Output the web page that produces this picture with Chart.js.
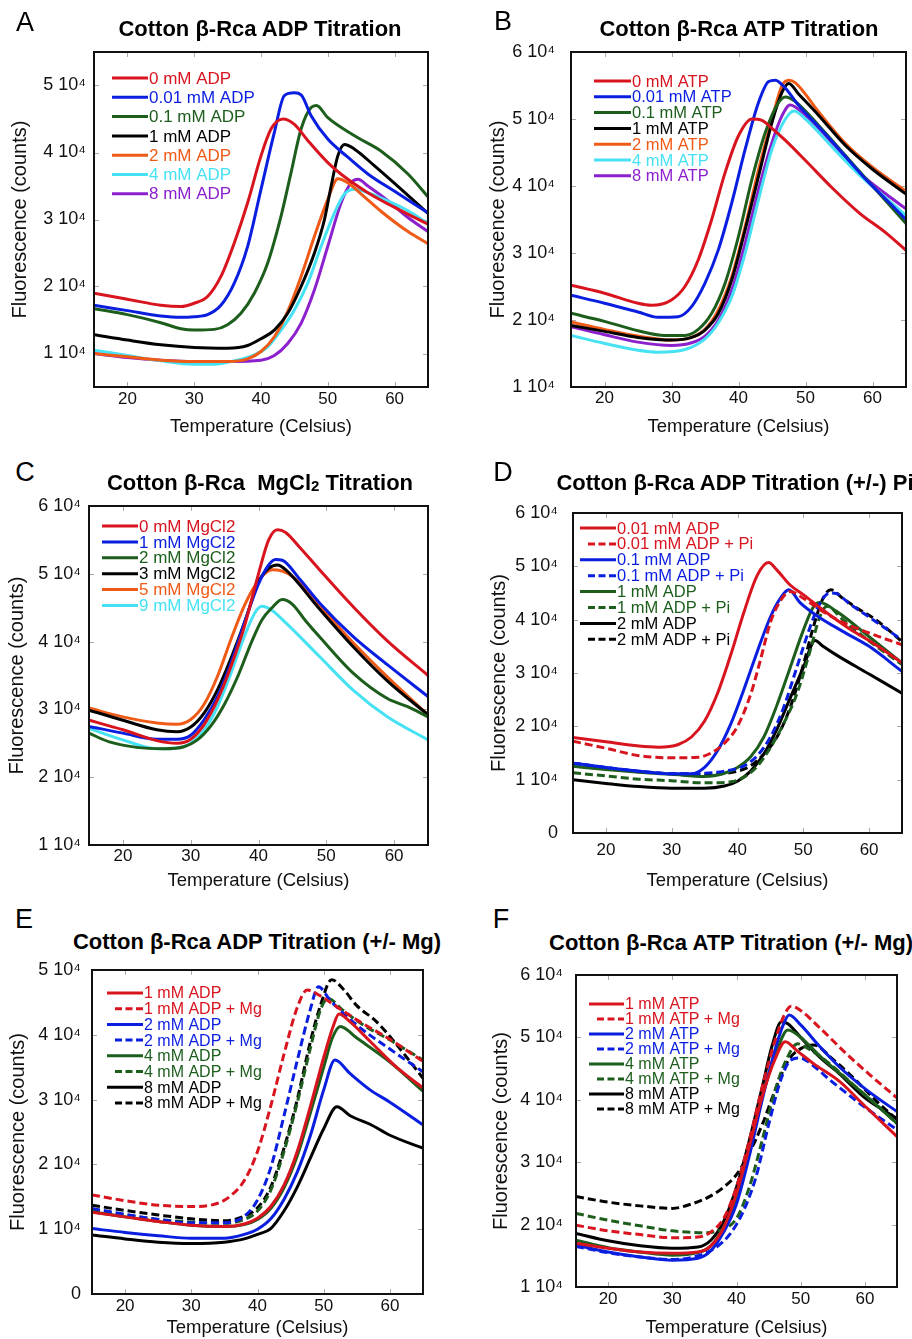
<!DOCTYPE html>
<html>
<head>
<meta charset="utf-8">
<script src="https://cdn.jsdelivr.net/npm/chart.js@4.4.1/dist/chart.umd.min.js"></script>
<style>
html, body { margin: 0; padding: 0; background: #fff; overflow: hidden; }
#fig { position: relative; width: 912px; height: 1339px; }
canvas { position: absolute; }
.lbl { position: absolute; transform: translate(-50%, -50%); white-space: nowrap;
  font-family: "Liberation Sans", Arial, Helvetica, sans-serif; color: #000; line-height: 1; }
.letter { font-size: 27px; }
.title { font-size: 22px; font-weight: bold; }
.title small { font-size: 15px; vertical-align: -1px; }
</style>
</head>
<body>
<div id="fig"></div>
<script>
var FONT = '"Liberation Sans", Arial, Helvetica, sans-serif';

// all fluorescence values are in thousands of counts, x in Celsius
var xTicks = [20, 30, 40, 50, 60];

// A: ADP titration
var aNames = ['0 mM ADP', '0.01 mM ADP', '0.1 mM ADP', '1 mM ADP', '2 mM ADP', '4 mM ADP', '8 mM ADP'];
var aYTicks = [10, 20, 30, 40, 50];
var aAdp0 = [[15,19],[20,18.1],[25,17.2],[28,17.0],[30,17.5],[32,18.5],[34,21.5],[36,26.5],[38,32.5],[40,39.5],[41.5,43.5],[43.3,45],[45,44.2],[47,41.8],[50,38.5],[53,36],[56,34],[60,31.8],[65,29.3]];
var aAdp001 = [[15,17.2],[20,16.4],[25,15.6],[28,15.4],[30,15.5],[32,15.8],[34,17.2],[36,20.5],[38,26],[40,34.5],[42,43],[43.5,48.5],[45,48.9],[46,48.6],[47.5,45.5],[50,42],[53,39.3],[56,36.8],[60,34.2],[65,31]];
var aAdp01 = [[15,16.7],[20,15.8],[25,14.6],[28,13.7],[30,13.5],[33,13.6],[35,14.3],[37,16],[39,19],[41,23.5],[43,30.5],[44.5,37],[46,43.5],[47.5,46.7],[48.3,47],[50,45.2],[54,42.5],[58,40.2],[62,36.8],[65,33.4]];
var aAdp1 = [[15,12.8],[20,12],[25,11.3],[30,10.9],[35,10.8],[38,11.2],[40,12.2],[42,13.5],[44,16],[46,20],[48,25],[49.5,30],[50.5,35],[51.5,39.5],[52.5,41.2],[54,40.5],[57,38],[61,34.5],[65,30.9]];
var aAdp2 = [[15,10],[20,9.5],[25,9.0],[30,8.8],[35,8.8],[38,9.2],[40,10.3],[42,12.5],[44,16.3],[46,21.5],[48,27.5],[50,33],[51.5,36.1],[53,35.5],[55,33.8],[58,31.2],[62,28.2],[65,26.4]];
var aAdp4 = [[15,10.5],[20,9.7],[25,8.9],[30,8.4],[33,8.4],[36,8.9],[39,9.8],[41,11],[43,13.5],[45,16.5],[47,20.5],[49,26],[51,31],[52.5,33.8],[54,34.5],[56,34],[58,33.2],[62,31.3],[65,29.4]];
var aAdp8 = [[15,10],[20,9.4],[25,9.0],[30,8.8],[35,8.8],[40,9],[42,9.7],[44,11.5],[46,14.5],[48,19.5],[50,26],[52,32.5],[53.5,35.5],[54.5,36],[56,35],[59,32.8],[62,30.3],[65,28.2]];

// B: ATP titration
var bNames = ['0 mM ATP', '0.01 mM ATP', '0.1 mM ATP', '1 mM ATP', '2 mM ATP', '4 mM ATP', '8 mM ATP'];
var bYTicks = [10, 20, 30, 40, 50, 60];
var bAtp0 = [[15,25.2],[20,24],[25,22.5],[27,22.2],[30,23],[32,25],[34,29],[36,35],[38,42],[40,47.5],[42,50],[43.5,49.8],[45,48.6],[47,46.8],[50,43.8],[54,39.7],[58,36],[62,33],[65,30.4]];
var bAtp001 = [[15,23.7],[20,22.5],[25,21.2],[28,20.4],[31,20.5],[33,22],[35,25.5],[37,30.5],[39,37.5],[41,45.5],[43,52.5],[44.5,55.6],[45.5,55.8],[47,54.6],[49,52],[52,48.8],[55,45.5],[59,41],[62,38],[65,35]];
var bAtp01 = [[15,21],[20,19.8],[25,18.4],[29,17.7],[32,17.7],[34,18.6],[36,21],[38,25.5],[40,32.5],[42,41],[44,48],[46,52.5],[47,53.3],[48.5,52.6],[52,49],[56,44.5],[60,40],[65,34.4]];
var bAtp1 = [[15,19.2],[20,18.3],[25,17.4],[30,17],[33,17.4],[35,18.5],[37,21],[39,26],[41,33.5],[43,41.5],[45,49.5],[46.5,54],[47.5,55.3],[49,53.7],[52,50.5],[56,46],[60,42.5],[65,38.8]];
var bAtp2 = [[15,19.7],[20,18.6],[25,17.6],[30,17],[33,17.4],[35,18.6],[37,21.5],[39,26.5],[41,34],[43,42.5],[45,50],[46.5,55],[47.5,55.8],[48.5,55.4],[52,51],[56,46.3],[60,42.8],[65,39.2]];
var bAtp4 = [[15,17.7],[20,16.5],[25,15.5],[28,15.2],[32,15.6],[35,17.2],[37,19.6],[39,23.5],[41,30],[43,38],[45,45.5],[47,50],[48.3,51.2],[50,50],[54,45.8],[58,41.7],[62,38.2],[65,35.6]];
var bAtp8 = [[15,19],[20,17.8],[25,16.7],[30,16.2],[33,16.6],[35,17.6],[37,20],[39,24.5],[41,31.5],[43,39.5],[45,46.5],[46.5,50.5],[47.7,52.1],[49.5,51],[54,46.4],[58,42],[62,38.8],[65,36.6]];

// C: MgCl2 titration
var cNames = ['0 mM MgCl2', '1 mM MgCl2', '2 mM MgCl2', '3 mM MgCl2', '5 mM MgCl2', '9 mM MgCl2'];
var cYTicks = [10, 20, 30, 40, 50, 60];
var cMg0 = [[15,28.4],[20,27],[25,25.4],[28,25],[30,25.6],[32,27.8],[34,31.5],[36,36.5],[38,42.5],[40,50],[41.5,55],[42.8,56.5],[44,56.1],[46,54],[49,50.6],[54,45.1],[59,40.1],[65,35]];
var cMg1 = [[15,27.5],[20,26.5],[25,25.6],[28,25.6],[30,26.2],[32,28.5],[34,32],[36,37],[38,43],[40,48.5],[41.5,51.3],[42.5,52.1],[43.5,52],[46,49.3],[49,45.7],[54,40.7],[59,36.6],[65,31.9]];
var cMg2 = [[15,26.5],[18,25.2],[22,24.4],[26,24.2],[29,24.5],[31,25.5],[33,27.6],[35,30.8],[37,35],[39,40],[40.5,43.2],[42,45],[43.5,46.2],[45,45.5],[47,43],[49,40.7],[54,35.3],[59,31.6],[62,30.4],[65,28.9]];
var cMg3 = [[15,29.9],[20,28.4],[25,27],[28,26.7],[30,27.4],[32,29.5],[34,33],[36,37.7],[38,43],[40,48.8],[41.5,50.8],[42.8,51.3],[44,50.6],[49,44.8],[54,39.2],[59,34.2],[65,29.2]];
var cMg5 = [[15,30.2],[20,28.9],[25,28],[28,27.8],[30,28.5],[32,30.8],[34,35],[36,40.5],[38,45.5],[40,49],[42,50.6],[43.5,50.4],[45,49.6],[49,45.3],[54,39.8],[59,34.8],[65,29.2]];
var cMg9 = [[15,27.2],[20,25.5],[25,24.2],[28,24.3],[30,25],[32,27],[34,30.5],[36,35.5],[38,41],[39.5,44.3],[40.5,45.2],[42,44.6],[44,42.8],[49,37.8],[54,32.8],[59,28.9],[65,25.5]];

// D: ADP titration +/- Pi
var dNames = ['0.01 mM ADP', '0.01 mM ADP + Pi', '0.1 mM ADP', '0.1 mM ADP + Pi', '1 mM ADP', '1 mM ADP + Pi', '2 mM ADP', '2 mM ADP + Pi'];
var dYTicks = [0, 10, 20, 30, 40, 50, 60];
var dAdp001 = [[15,17.9],[20,17.1],[25,16.3],[28,16.1],[31,16.6],[33,18],[35,21],[37,26.3],[39,33.5],[41,41.5],[43,48.3],[44.7,50.7],[46,49.3],[48,46.5],[50,44.7],[53,41.8],[57,38.3],[61,35.3],[65,31.9]];
var dAdp001Pi = [[15,17.2],[20,15.9],[25,14.5],[30,14.1],[34,14.2],[36,15],[38,16.8],[40,20],[42,26],[43.5,32.5],[45,39.5],[46.5,43.5],[48,45.3],[50,44],[53,41.5],[56,39.5],[60,37.5],[65,35.3]];
var dAdp01 = [[15,13.1],[20,12.3],[25,11.6],[30,11.1],[33,11.1],[35,12.3],[37,15.5],[39,20.5],[41,27],[43,34],[45,40.5],[46.5,44],[47.8,45.6],[49.5,43.2],[52,40.8],[56,37.8],[60,35],[65,30.3]];
var dAdp01Pi = [[15,13.1],[20,12.3],[25,11.6],[30,11.1],[35,11.2],[38,11.6],[41,12.6],[43,14.5],[45,18],[47,23.5],[49,31],[51,38.5],[52.5,43],[54,45],[55,44.9],[57,43],[60,40.5],[65,36.2]];
var dAdp1 = [[15,12.5],[20,11.9],[25,11.4],[30,11],[35,10.6],[38,11.2],[40,12.3],[42,14.3],[44,18],[46,24],[48,31],[50,38],[51.5,42.3],[52.5,43.2],[55,41.6],[60,36.8],[65,31.9]];
var dAdp1Pi = [[15,11.3],[20,10.7],[25,10.1],[30,9.8],[35,9.4],[39,9.6],[41,10.5],[43,12.5],[45,16],[47,20.5],[49,26],[51,34],[52.5,40.5],[53.6,42.5],[56,40],[60,36],[65,31.6]];
var dAdp2 = [[15,10],[20,9.3],[25,8.7],[30,8.4],[35,8.4],[38,8.8],[40,9.7],[42,11.6],[44,14.8],[46,19.5],[48,25.3],[50,31],[51.8,36.1],[53,35],[55,33.4],[60,29.8],[65,26.2]];
var dAdp2Pi = [[15,13.1],[20,12.2],[25,11.5],[30,11.1],[35,11],[40,11.6],[42,12.6],[44,14.8],[46,18],[48,23.5],[50,31.5],[51.5,38.5],[53,44],[54.2,45.6],[56,44],[58,42.3],[61,40],[65,35.9]];

// E: ADP titration +/- Mg
var eNames = ['1 mM ADP', '1 mM ADP + Mg', '2 mM ADP', '2 mM ADP + Mg', '4 mM ADP', '4 mM ADP + Mg', '8 mM ADP', '8 mM ADP + Mg'];
var eYTicks = [0, 10, 20, 30, 40, 50];
var eAdp1 = [[15,12.6],[20,11.9],[25,11.2],[30,10.6],[35,10.4],[38,10.8],[40,11.7],[42,13.5],[44,16.8],[46,22],[48,29],[50,36.5],[51.5,41.5],[52.3,43.2],[54,42],[57,39],[61,35],[65,31.8]];
var eAdp1Mg = [[15,15.3],[20,14.4],[25,13.7],[30,13.5],[34,14],[36,15.2],[38,17.5],[40,22],[42,29],[44,37],[46,44.2],[47.5,46.9],[49.5,46],[52,44.3],[55,42.3],[60,39.3],[65,35.9]];
var eAdp2 = [[15,10.1],[20,9.5],[25,9],[30,8.6],[35,8.6],[38,9.2],[40,10],[42,11.6],[44,14.6],[46,18.8],[48,24.5],[50,31.5],[51.7,36.1],[54,34],[57,31.5],[60,29.6],[65,26.1]];
var eAdp2Mg = [[15,13.2],[20,12.3],[25,11.5],[30,11],[35,11],[38,12],[40,14.5],[42,19.5],[44,27.5],[46,36],[48,44],[49.2,47.4],[51,45.3],[55,41.5],[60,37.8],[65,34.3]];
var eAdp4 = [[15,12.7],[20,11.9],[25,11.2],[30,10.6],[35,10.4],[38,10.7],[40,11.5],[42,13.2],[44,16.4],[46,21.3],[48,28],[50,35],[51.3,39.5],[52.5,41.3],[55,39.5],[60,35.8],[65,31.3]];
var eAdp4Mg = [[15,13],[20,12.2],[25,11.5],[30,11.1],[35,10.9],[38,11.5],[40,12.8],[42,16],[44,22],[46,29.5],[48,38],[49.5,43.8],[50.6,45.6],[53,43.7],[56,41.5],[60,39.2],[65,36.1]];
var eAdp8 = [[15,9.1],[20,8.5],[25,8],[30,7.8],[35,8],[38,8.5],[40,9.2],[42,10.1],[44,12.8],[46,16.5],[48,21],[50,25.5],[52,28.9],[54,27.5],[57,26.2],[60,24.5],[65,22.5]];
var eAdp8Mg = [[15,13.7],[20,12.9],[25,12.2],[30,11.6],[35,11.3],[38,12],[40,13.3],[42,16.5],[44,22.5],[46,30],[48,39],[49.5,44.5],[51.2,48.5],[53,47],[55,44.5],[58,42],[61,38.5],[65,33.3]];

// F: ATP titration +/- Mg
var fNames = ['1 mM ATP', '1 mM ATP + Mg', '2 mM ATP', '2 mM ATP + Mg', '4 mM ATP', '4 mM ATP + Mg', '8 mM ATP', '8 mM ATP + Mg'];
var fYTicks = [10, 20, 30, 40, 50, 60];
var fAtp1 = [[15,17],[20,16.2],[25,15.6],[30,15.4],[34,15.6],[36,16.6],[38,19.5],[40,25],[42,32.5],[44,40.5],[46,46.5],[47.6,49.3],[49.5,47.8],[52,45.8],[56,43],[60,39],[65,34.1]];
var fAtp1Mg = [[15,19.9],[20,19],[25,18.4],[30,17.9],[34,18],[36,18.8],[38,21],[40,26],[42,33.5],[44,42],[46,49.5],[47.5,53.7],[48.5,55],[50,54.3],[53,51.5],[57,47.5],[61,43.8],[65,40.3]];
var fAtp2 = [[15,16.7],[20,15.6],[25,14.8],[30,14.3],[34,14.6],[36,15.8],[38,18.8],[40,23.3],[42,31],[44,40],[46,48],[47.2,51.8],[48.2,53.6],[50,52],[53,48.5],[56,45.3],[60,41.8],[65,38.1]];
var fAtp2Mg = [[15,16.5],[20,15.5],[25,14.8],[30,14.4],[34,15],[37,16.5],[39,18.5],[41,22],[43,27.5],[45,36],[47,43.5],[48.5,46.4],[50,46.7],[51,46.2],[55,42.8],[60,38.8],[65,35.2]];
var fAtp4 = [[15,17.5],[20,16.3],[25,15.6],[30,15.1],[34,15.5],[36,16.6],[38,19.5],[40,24.5],[42,32],[44,40.5],[46,47],[48,51.2],[50,50],[53,47],[56,44.3],[60,40.8],[65,36.2]];
var fAtp4Mg = [[15,21.8],[20,20.7],[25,19.8],[30,19],[35,18.7],[38,19.3],[40,21],[42,26],[44,33.5],[46,41.5],[47.8,46.5],[49.5,49],[51,48.3],[54,46.2],[58,42.6],[62,39],[65,36.2]];
var fAtp8 = [[15,18.6],[20,17.4],[25,16.6],[30,16.2],[34,16.4],[36,17.5],[38,20.5],[40,26],[42,33.5],[44,42],[45.5,48.5],[47,52.5],[48,52.2],[50,50],[53,46.8],[56,44.2],[60,40.3],[65,37]];
var fAtp8Mg = [[15,24.5],[20,23.6],[25,23],[30,22.6],[33,23.3],[36,24.6],[38,26],[40,28],[42,31.5],[44,36],[46,41.5],[48,46.2],[50,48.2],[52,48.8],[55,46.5],[58,43.7],[62,39.6],[65,36.8]];

var RED = '#d8141e', BLUE = '#0a1ee0', GREEN = '#1d5e1d', BLACK = '#000000',
    ORANGE = '#ef5a16', CYAN = '#46e2f4', PURPLE = '#8c20cc';
var sevenColors = [RED, BLUE, GREEN, BLACK, ORANGE, CYAN, PURPLE];
var pairColors = [RED, RED, BLUE, BLUE, GREEN, GREEN, BLACK, BLACK];
var pairDash = [false, true, false, true, false, true, false, true];

var fig = document.getElementById('fig');

function addText(html, x, y, cls) {
  var d = document.createElement('div');
  d.className = 'lbl ' + cls;
  d.innerHTML = html;
  d.style.left = x + 'px';
  d.style.top = y + 'px';
  fig.appendChild(d);
}

// light tick marks on the inside of the box, then the black frame
var framePlugin = {
  id: 'frame',
  beforeDatasetsDraw: function(chart) {
    var ctx = chart.ctx, a = chart.chartArea;
    var xs = chart.scales.x, ys = chart.scales.y;
    ctx.save();
    ctx.strokeStyle = '#aaaaaa';
    ctx.lineWidth = 1;
    ctx.beginPath();
    for (var i = 0; i < xs.ticks.length; i++) {
      var px = Math.round(xs.getPixelForValue(xs.ticks[i].value)) + 0.5;
      ctx.moveTo(px, a.top); ctx.lineTo(px, a.top + 5);
      ctx.moveTo(px, a.bottom); ctx.lineTo(px, a.bottom - 5);
    }
    for (var j = 0; j < ys.ticks.length; j++) {
      var py = Math.round(ys.getPixelForValue(ys.ticks[j].value)) + 0.5;
      ctx.moveTo(a.left, py); ctx.lineTo(a.left + 5, py);
      ctx.moveTo(a.right, py); ctx.lineTo(a.right - 5, py);
    }
    ctx.stroke();
    ctx.restore();
  },
  afterDatasetsDraw: function(chart) {
    var ctx = chart.ctx, a = chart.chartArea;
    ctx.save();
    ctx.strokeStyle = '#111';
    ctx.lineWidth = 2;
    ctx.strokeRect(a.left, a.top, a.right - a.left, a.bottom - a.top);
    ctx.restore();
  }
};

// legend drawn inside the plot box, text in the series colour
var insideLegend = {
  id: 'insideLegend',
  afterDraw: function(chart, args, opts) {
    var ctx = chart.ctx, a = chart.chartArea;
    var sets = chart.data.datasets;
    ctx.save();
    ctx.font = opts.size + 'px ' + FONT;
    ctx.textBaseline = 'middle';
    for (var i = 0; i < sets.length; i++) {
      var ds = sets[i];
      var x = a.left + opts.x, y = a.top + opts.y + i * opts.row;
      var dashed = ds.borderDash && ds.borderDash.length;
      ctx.strokeStyle = ds.borderColor;
      ctx.lineWidth = 3;
      ctx.setLineDash(dashed ? [7, 3.5] : []);
      ctx.beginPath();
      ctx.moveTo(x + (dashed ? 8 : 0), y);
      ctx.lineTo(x + opts.len, y);
      ctx.stroke();
      ctx.fillStyle = ds.borderColor;
      ctx.fillText(ds.label, x + opts.len + 1, y + 1);
    }
    ctx.restore();
  }
};

function tickLabel(v) {
  return v === 0 ? '0' : (v / 10) + ' 10\u2074';
}

var PAD_TOP = 16;

function makePanel(p) {
  var left = p.yTitleX - 16;
  var top = p.plot[1] - PAD_TOP;
  var width = p.plot[2] + 6 - left;
  var height = p.xTitleY + 14 - top;
  var yw = p.plot[0] - left;
  var xh = p.xTitleY + 14 - p.plot[3];

  var cv = document.createElement('canvas');
  cv.width = width;
  cv.height = height;
  cv.style.left = left + 'px';
  cv.style.top = top + 'px';
  fig.appendChild(cv);

  var datasets = [];
  for (var i = 0; i < p.series.length; i++) {
    datasets.push({
      label: p.names[i],
      data: p.series[i].map(function(d) { return {x: d[0], y: d[1]}; }),
      borderColor: p.colors[i],
      borderDash: p.dashed && p.dashed[i] ? [8, 4] : [],
      borderWidth: 3,
      pointRadius: 0,
      fill: false,
      cubicInterpolationMode: 'monotone'
    });
  }

  new Chart(cv, {
    type: 'line',
    data: {datasets: datasets},
    options: {
      responsive: false,
      animation: false,
      devicePixelRatio: 1,
      layout: {padding: {top: PAD_TOP, right: 6, left: 0, bottom: 0}},
      plugins: {
        legend: {display: false},
        tooltip: {enabled: false},
        insideLegend: p.legend
      },
      scales: {
        x: {
          type: 'linear', min: 15, max: 65,
          afterBuildTicks: function(s) { s.ticks = xTicks.map(function(v) { return {value: v}; }); },
          // fixed box size, no extra room asked for the end labels
          afterFit: function(s) { s.height = xh; s.paddingLeft = 0; s.paddingRight = 0; },
          grid: {display: false},
          border: {display: false},
          ticks: {padding: p.xTickPad, autoSkip: false, maxRotation: 0, color: '#111', font: {size: 17}},
          title: {display: true, text: 'Temperature (Celsius)', color: '#111',
                  font: {size: 18.5}, padding: {top: 0, bottom: 2.9}}
        },
        y: {
          type: 'linear', min: p.yRange[0], max: p.yRange[1],
          afterBuildTicks: function(s) { s.ticks = p.yTicks.map(function(v) { return {value: v}; }); },
          afterFit: function(s) { s.width = yw; s.paddingTop = 0; s.paddingBottom = 0; },
          grid: {display: false},
          border: {display: false},
          ticks: {padding: p.yTickPad, autoSkip: false, color: '#111', font: {size: 18}, callback: tickLabel},
          title: {display: true, text: 'Fluorescence (counts)', color: '#111',
                  font: {size: 20}, padding: {top: 4, bottom: 0}}
        }
      }
    },
    plugins: [framePlugin, insideLegend]
  });

  addText(p.letter, p.letterAt[0], p.letterAt[1], 'letter');
  addText(p.title, p.titleAt[0], p.titleAt[1], 'title');
}

Chart.defaults.font.family = FONT;

makePanel({
  letter: 'A', letterAt: [25, 22],
  title: 'Cotton \u03b2-Rca ADP Titration', titleAt: [260, 29],
  plot: [94, 52, 428, 387], yTitleX: 20, xTitleY: 427, yTickPad: 0, xTickPad: -6,
  yRange: [5, 55], yTicks: aYTicks,
  names: aNames, colors: sevenColors,
  series: [aAdp0, aAdp001, aAdp01, aAdp1, aAdp2, aAdp4, aAdp8],
  legend: {x: 18, y: 26, len: 36, row: 19.3, size: 17}
});

makePanel({
  letter: 'B', letterAt: [503, 21],
  title: 'Cotton \u03b2-Rca ATP Titration', titleAt: [739, 29],
  plot: [571, 52, 906, 387], yTitleX: 498, xTitleY: 427, yTickPad: 8, xTickPad: -6.5,
  yRange: [10, 60], yTicks: bYTicks,
  names: bNames, colors: sevenColors,
  series: [bAtp0, bAtp001, bAtp01, bAtp1, bAtp2, bAtp4, bAtp8],
  legend: {x: 23, y: 29, len: 37, row: 15.8, size: 16.5}
});

makePanel({
  letter: 'C', letterAt: [25, 472],
  title: 'Cotton \u03b2-Rca&nbsp; MgCl<small>2</small> Titration', titleAt: [260, 483],
  plot: [89, 506, 428, 845], yTitleX: 17, xTitleY: 881, yTickPad: 0, xTickPad: -7,
  yRange: [10, 60], yTicks: cYTicks,
  names: cNames, colors: sevenColors,
  series: [cMg0, cMg1, cMg2, cMg3, cMg5, cMg9],
  legend: {x: 13, y: 20, len: 36, row: 15.9, size: 17}
});

makePanel({
  letter: 'D', letterAt: [503, 472],
  title: 'Cotton \u03b2-Rca ADP Titration (+/-) Pi', titleAt: [735, 483],
  plot: [573, 513, 902, 833], yTitleX: 499, xTitleY: 881, yTickPad: 7, xTickPad: -1,
  yRange: [0, 60], yTicks: dYTicks,
  names: dNames, colors: pairColors, dashed: pairDash,
  series: [dAdp001, dAdp001Pi, dAdp01, dAdp01Pi, dAdp1, dAdp1Pi, dAdp2, dAdp2Pi],
  legend: {x: 7, y: 15, len: 36, row: 15.9, size: 16.5}
});

makePanel({
  letter: 'E', letterAt: [24, 919],
  title: 'Cotton \u03b2-Rca ADP Titration (+/- Mg)', titleAt: [257, 942],
  plot: [92, 970, 423, 1294], yTitleX: 18, xTitleY: 1328, yTickPad: 3, xTickPad: -6,
  yRange: [0, 50], yTicks: eYTicks,
  names: eNames, colors: pairColors, dashed: pairDash,
  series: [eAdp1, eAdp1Mg, eAdp2, eAdp2Mg, eAdp4, eAdp4Mg, eAdp8, eAdp8Mg],
  legend: {x: 15, y: 23, len: 36, row: 15.7, size: 16}
});

makePanel({
  letter: 'F', letterAt: [501, 919],
  title: 'Cotton \u03b2-Rca ATP Titration (+/- Mg)', titleAt: [731, 943],
  plot: [576, 975, 897, 1287], yTitleX: 501, xTitleY: 1328, yTickPad: 5, xTickPad: -5.7,
  yRange: [10, 60], yTicks: fYTicks,
  names: fNames, colors: pairColors, dashed: pairDash,
  series: [fAtp1, fAtp1Mg, fAtp2, fAtp2Mg, fAtp4, fAtp4Mg, fAtp8, fAtp8Mg],
  legend: {x: 13, y: 29, len: 35, row: 15, size: 16}
});
</script>
</body>
</html>
